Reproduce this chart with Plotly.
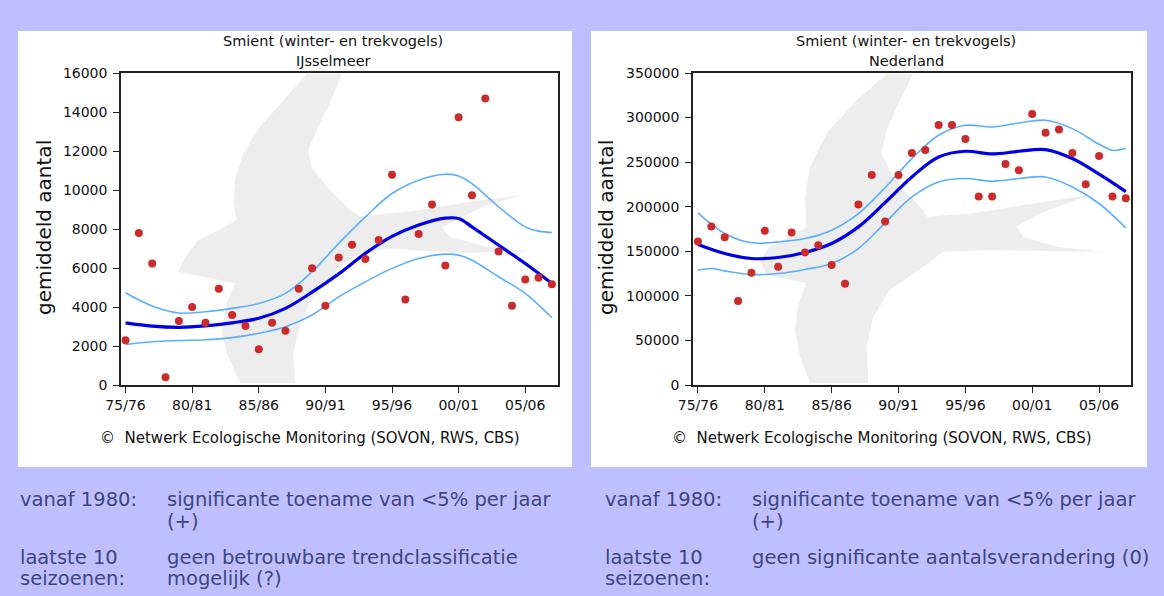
import plotly.graph_objects as go

# ------------------------------------------------------------
# data
# ------------------------------------------------------------
seasons = [1975, 1976, 1977, 1978, 1979, 1980, 1981, 1982, 1983, 1984, 1985,
           1986, 1987, 1988, 1989, 1990, 1991, 1992, 1993, 1994, 1995, 1996,
           1997, 1998, 1999, 2000, 2001, 2002, 2003, 2004, 2005, 2006, 2007]
tick_years = [1975, 1980, 1985, 1990, 1995, 2000, 2005]
tick_labels = ["75/76", "80/81", "85/86", "90/91", "95/96", "00/01", "05/06"]

# IJsselmeer
ijs_counts = [2300, 7800, 6230, 400, 3280, 4000, 3190, 4940, 3590, 3020, 1830,
              3190, 2780, 4940, 5990, 4060, 6540, 7190, 6460, 7430, 10780, 4390,
              7740, 9260, 6130, 13730, 9730, 14690, 6850, 4060, 5410, 5500, 5170]
ijs_trend_years = [1975, 1977, 1979, 1981, 1983, 1985, 1987, 1989, 1991, 1993,
                   1995, 1997, 1999, 2000, 2001, 2003, 2005, 2007]
ijs_trend = [3190, 3020, 2960, 3030, 3190, 3420, 3930, 4760, 5700, 6750,
             7620, 8200, 8555, 8540, 8110, 7170, 6230, 5210]
ijs_upper_years = [1975, 1977, 1979, 1981, 1983, 1985, 1987, 1989, 1991, 1993,
                   1995, 1997, 1999, 2000, 2001, 2003, 2005, 2006, 2007]
ijs_upper = [4730, 4050, 3690, 3760, 3930, 4180, 4700, 5810, 7260, 8620,
             9820, 10500, 10810, 10720, 10330, 9140, 8110, 7890, 7820]
ijs_lower_years = [1975, 1977, 1979, 1981, 1983, 1985, 1987, 1989, 1991, 1993,
                   1995, 1997, 1999, 2000, 2001, 2003, 2005, 2007]
ijs_lower = [2080, 2220, 2280, 2320, 2430, 2650, 2990, 3590, 4520, 5290,
             5980, 6490, 6710, 6660, 6400, 5550, 4700, 3450]

# Nederland
nl_counts = [161000, 177800, 165800, 94100, 125900, 172900, 132600, 171100,
             148700, 156900, 134500, 113500, 202400, 235700, 183400, 235700,
             260300, 263700, 291700, 291700, 276000, 211400, 211400, 248000,
             240900, 304000, 283100, 286500, 260300, 225200, 257000, 211400,
             209500]
nl_trend_years = [1975, 1977, 1979, 1981, 1983, 1985, 1987, 1989, 1991, 1993,
                  1995, 1997, 1999, 2001, 2003, 2005, 2007]
nl_trend = [157600, 147500, 141900, 143000, 148700, 158800, 177400, 204700,
            233400, 255800, 262200, 259200, 262200, 264100, 254000, 236500,
            217000]
nl_upper_years = [1975, 1977, 1979, 1981, 1983, 1985, 1987, 1989, 1991, 1993,
                  1995, 1997, 1999, 2001, 2003, 2005, 2006, 2007]
nl_upper = [193100, 170000, 159500, 160600, 164300, 173700, 192300, 221500,
            254000, 280200, 291300, 289500, 294000, 297000, 287600, 270000,
            263300, 265200]
nl_lower_years = [1975, 1976, 1977, 1979, 1981, 1983, 1985, 1987, 1989, 1991,
                  1993, 1995, 1997, 1999, 2001, 2003, 2005, 2007]
nl_lower = [128900, 130700, 128000, 124000, 125100, 129600, 136300, 153100,
            181900, 211000, 227800, 231600, 228600, 231600, 233400, 222200,
            203600, 176300]

W, H = 1164, 596
BG = "#BFBFFF"
TXT = "#3C4682"
FONT = "DejaVu Sans"


def px(x):
    return x / W


def py(y):
    return 1 - y / H


# ------------------------------------------------------------
# bird silhouette (background decoration), traced in pixel coords
# ------------------------------------------------------------
bird_left = [(560, 12), (665, 12), (630, 100), (590, 180), (565, 240), (575, 290),
             (620, 350), (690, 420), (720, 440), (900, 420), (1050, 395),
             (1205, 375), (1100, 405), (965, 472), (990, 500), (1100, 530),
             (1230, 545), (1000, 548), (800, 535), (700, 560), (650, 600),
             (580, 680), (540, 760), (520, 850), (525, 940), (360, 940),
             (320, 850), (305, 780), (320, 700), (345, 640), (175, 605),
             (195, 560), (235, 510), (300, 478), (350, 450), (340, 400),
             (345, 330), (370, 250), (420, 170), (500, 80)]
bird_right = [(590, 12), (670, 12), (630, 90), (590, 180), (575, 250), (610, 320),
              (650, 370), (700, 420), (710, 440), (850, 430), (1000, 405),
              (1200, 375), (1050, 430), (980, 470), (1000, 500), (1100, 530),
              (1240, 545), (900, 540), (760, 545), (700, 590), (600, 660),
              (550, 740), (530, 830), (535, 940), (360, 940), (330, 860),
              (315, 780), (325, 700), (350, 640), (230, 615), (210, 570),
              (240, 530), (300, 500), (350, 470), (345, 380), (360, 290),
              (410, 190), (500, 90)]


def bird_path(pts, ox, oy):
    coords = [(px(ox + a / 3), py(oy + b / 3)) for a, b in pts]
    s = "M %.5f %.5f " % coords[0]
    for c in coords[1:]:
        s += "L %.5f %.5f " % c
    return s + "Z"


fig = go.Figure()


def add_panel(counts, ty, t, uy, u, ly, l, xa, ya):
    band = dict(color="#5AB0FF", width=1.6)
    fig.add_trace(go.Scatter(x=uy, y=u, mode="lines", line=dict(shape="spline", **band),
                             xaxis=xa, yaxis=ya, hoverinfo="skip"))
    fig.add_trace(go.Scatter(x=ly, y=l, mode="lines", line=dict(shape="spline", **band),
                             xaxis=xa, yaxis=ya, hoverinfo="skip"))
    fig.add_trace(go.Scatter(x=ty, y=t, mode="lines",
                             line=dict(shape="spline", color="#0000E6", width=3.2),
                             xaxis=xa, yaxis=ya))
    fig.add_trace(go.Scatter(x=seasons, y=counts, mode="markers",
                             marker=dict(color="#CC2B2B", size=8),
                             xaxis=xa, yaxis=ya))


add_panel(ijs_counts, ijs_trend_years, ijs_trend, ijs_upper_years, ijs_upper,
          ijs_lower_years, ijs_lower, "x", "y")
add_panel(nl_counts, nl_trend_years, nl_trend, nl_upper_years, nl_upper,
          nl_lower_years, nl_lower, "x2", "y2")

xcommon = dict(tickmode="array", tickvals=tick_years, ticktext=tick_labels,
               ticks="outside", ticklen=6, tickcolor="#222", showgrid=False,
               zeroline=False, showline=True, linecolor="#222", linewidth=1.5,
               mirror=True, automargin=False,
               tickfont=dict(family=FONT, size=14, color="#111"))
ycommon = dict(ticks="outside", ticklen=6, tickcolor="#222", showgrid=False,
               zeroline=False, showline=True, linecolor="#222", linewidth=1.5,
               mirror=True, automargin=False, ticklabelstandoff=3,
               tickfont=dict(family=FONT, size=14, color="#111"),
               separatethousands=False, tickformat="d")

fig.update_layout(
    width=W, height=H,
    margin=dict(l=0, r=0, t=0, b=0, pad=0),
    paper_bgcolor=BG,
    plot_bgcolor="rgba(0,0,0,0)",
    showlegend=False,
    xaxis=dict(domain=[px(121), px(557.5)], range=[1974.66, 2007.42], **xcommon),
    yaxis=dict(domain=[py(385), py(73)], range=[0, 16000], dtick=2000, anchor="x", **ycommon),
    xaxis2=dict(domain=[px(693), px(1130.5)], range=[1974.63, 2007.35], anchor="y2", **xcommon),
    yaxis2=dict(domain=[py(385), py(73)], range=[0, 350000], dtick=50000, anchor="x2", **ycommon),
)

shapes = []
for x0, x1 in [(18, 572), (591, 1147)]:
    shapes.append(dict(type="rect", xref="paper", yref="paper", layer="below",
                       x0=px(x0), x1=px(x1), y0=py(467), y1=py(31),
                       fillcolor="white", line=dict(width=0)))
shapes.append(dict(type="path", xref="paper", yref="paper", layer="below",
                   path=bird_path(bird_left, 120, 70), fillcolor="#ECEDEC",
                   line=dict(width=0)))
shapes.append(dict(type="path", xref="paper", yref="paper", layer="below",
                   path=bird_path(bird_right, 690, 70), fillcolor="#ECEDEC",
                   line=dict(width=0)))
fig.update_layout(shapes=shapes)


def note(x, y, text, size, color="#111", anchor="center", angle=0):
    fig.add_annotation(x=px(x), y=py(y), xref="paper", yref="paper", text=text,
                       showarrow=False, xanchor=anchor, yanchor="middle",
                       textangle=angle, font=dict(family=FONT, size=size, color=color))


# chart titles and labels
for cx, place, lab_x, copy_x in [(333, "IJsselmeer", 44, 310), (906, "Nederland", 606, 882)]:
    note(cx, 41, "Smient (winter- en trekvogels)", 14.5)
    note(cx, 61, place, 14.5)
    note(lab_x, 228, "gemiddeld aantal", 20, angle=-90)
    note(copy_x, 438, "\u00a9  Netwerk Ecologische Monitoring (SOVON, RWS, CBS)", 15)

# trend texts below the charts
ts = 19.5
note(18, 499, "vanaf 1980:", ts, TXT, "left")
note(165, 499, "significante toename van &lt;5% per jaar", ts, TXT, "left")
note(165, 521, "(+)", ts, TXT, "left")
note(18, 557, "laatste 10", ts, TXT, "left")
note(18, 578, "seizoenen:", ts, TXT, "left")
note(165, 557, "geen betrouwbare trendclassificatie", ts, TXT, "left")
note(165, 578, "mogelijk (?)", ts, TXT, "left")

note(603, 499, "vanaf 1980:", ts, TXT, "left")
note(750, 499, "significante toename van &lt;5% per jaar", ts, TXT, "left")
note(750, 521, "(+)", ts, TXT, "left")
note(603, 557, "laatste 10", ts, TXT, "left")
note(603, 578, "seizoenen:", ts, TXT, "left")
note(750, 557, "geen significante aantalsverandering (0)", ts, TXT, "left")

# the page gets a default 8px body margin; remove it so the figure fills the window
fig.write_html("out.html", config={"displayModeBar": False}, post_script=(
    "document.body.style.margin='0';"
    "document.body.style.overflow='hidden';"
    "document.body.style.background='" + BG + "';"))
